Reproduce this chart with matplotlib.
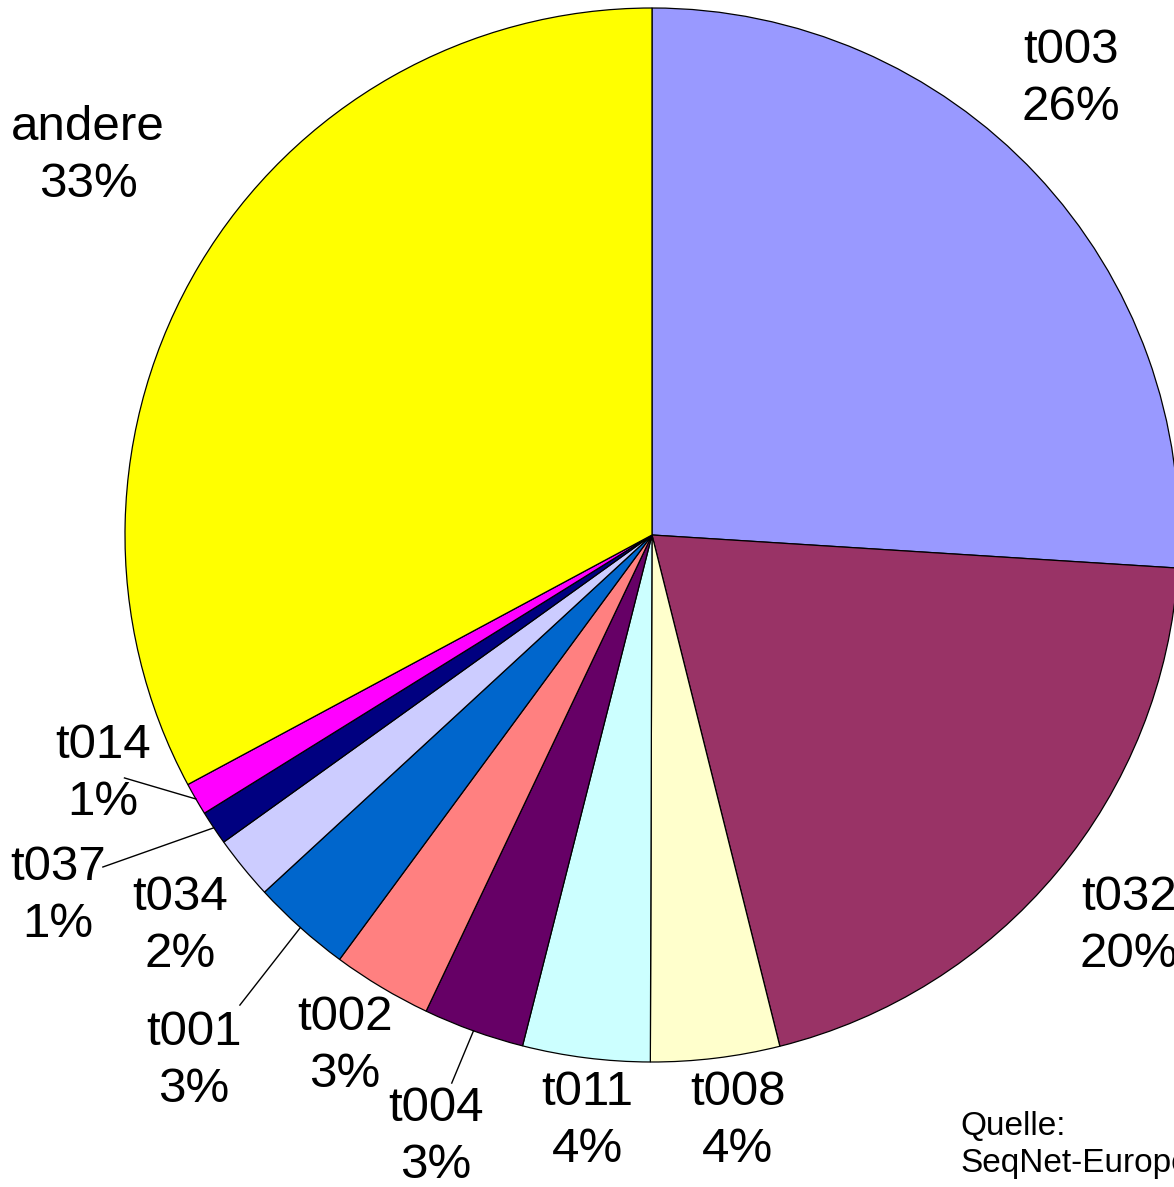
import matplotlib.pyplot as plt
import numpy as np

# Anteile (Prozent), im Uhrzeigersinn ab 12 Uhr
names = ['t003', 't032', 't008', 't011', 't004', 't002', 't001', 't034', 't037', 't014', 'andere']
values = [26.0, 20.1, 3.95, 3.9, 3.1, 3.05, 3.05, 1.95, 1.05, 1.0, 32.85]
colors = ['#9999FF', '#993366', '#FFFFCC', '#CCFFFF', '#660066', '#FF8080',
          '#0066CC', '#CCCCFF', '#000080', '#FF00FF', '#FFFF00']

# label layout (pie units, radius = 1)
label_pos = [(0.795, 0.865), (0.905, -0.742), (0.163, -1.112), (-0.123, -1.112),
             (-0.410, -1.142), (-0.583, -0.970), (-0.869, -0.998), (-0.896, -0.742),
             (-1.127, -0.685), (-1.042, -0.454), (-1.070, 0.719)]
# leader lines: start point near the text, end on the wedge edge
leaders = {'t014': (-1.001, -0.461), 't037': (-1.042, -0.630),
           't001': (-0.782, -0.892), 't004': (-0.380, -1.040)}

plt.rcParams['font.family'] = ['Liberation Sans', 'DejaVu Sans']

fig = plt.figure(figsize=(11.74, 11.87), dpi=100)
W, H = 1174, 1187
cx, cy, r = 652, 535, 527
ax = fig.add_axes([(cx - r) / W, (H - cy - r) / H, 2 * r / W, 2 * r / H])

wedges, _ = ax.pie(values, colors=colors, startangle=90, counterclock=False,
                   wedgeprops=dict(edgecolor='black', linewidth=0.9))
ax.set_xlim(-1, 1)
ax.set_ylim(-1, 1)
ax.set_axis_off()

for w, name, v, (lx, ly) in zip(wedges, names, values, label_pos):
    ax.text(lx, ly, f'{name}\n{round(v)}%', ha='center', va='center',
            fontsize=35.5, linespacing=1.33, clip_on=False)
    if name in leaders:
        mid = np.deg2rad((w.theta1 + w.theta2) / 2)
        sx, sy = leaders[name]
        ax.plot([sx, np.cos(mid)], [sy, np.sin(mid)], color='black', lw=1.0, clip_on=False)

fig.text(960 / W, 1 - 1145 / H, 'Quelle:\nSeqNet-Europe', ha='left', va='center',
         fontsize=24, linespacing=1.26)

fig.savefig('out.png', dpi=100)
